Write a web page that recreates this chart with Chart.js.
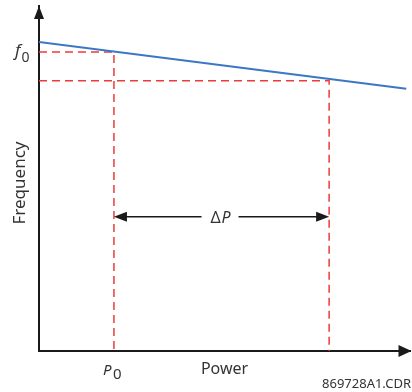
<!DOCTYPE html>
<html>
<head>
<meta charset="utf-8">
<script src="https://cdn.jsdelivr.net/npm/chart.js@4"></script>
<style>
  body { margin: 0; background: #fff; }
  #wrap { width: 412px; height: 392px; }
</style>
</head>
<body>
<div id="wrap"><canvas id="droop" width="412" height="392"></canvas></div>
<script>
// droop characteristic, axes in % of full scale
var powerPts = [0, 99];
var freqPts = [89.6, 76.0];

// operating points
var p0 = 20.2, p1 = 78.2;
var f0 = 86.7, f1 = 78.3;
var deltaPLevel = 38.9;

var axisMax = 100;
var axisColor = '#1a1a1a';
var textColor = '#333333';
var redDash = '#ec3b3b';
var fontFamily = '"Noto Sans", "Open Sans", sans-serif';

// arrows, axis name, sub-scripted labels and the drawing id
var annotations = {
    id: 'annotations',
    afterDatasetsDraw: function(chart) {
        var ctx = chart.ctx,
            xs = chart.scales.x,
            ys = chart.scales.y,
            area = chart.chartArea;

        function triangle(tx, ty, dir, len, half) {
            ctx.beginPath();
            if (dir === 'up') {
                ctx.moveTo(tx, ty); ctx.lineTo(tx - half, ty + len); ctx.lineTo(tx + half, ty + len);
            } else if (dir === 'right') {
                ctx.moveTo(tx, ty); ctx.lineTo(tx - len, ty - half); ctx.lineTo(tx - len, ty + half);
            } else {
                ctx.moveTo(tx, ty); ctx.lineTo(tx + len, ty - half); ctx.lineTo(tx + len, ty + half);
            }
            ctx.closePath();
            ctx.fill();
        }

        ctx.save();
        ctx.fillStyle = axisColor;
        // axis arrowheads
        triangle(area.left, area.top, 'up', 13, 5);
        triangle(area.right + 1.5, area.bottom, 'right', 13, 6);

        // delta P dimension arrow
        var xa = xs.getPixelForValue(p0),
            xb = xs.getPixelForValue(p1),
            yd = ys.getPixelForValue(deltaPLevel),
            xm = (xa + xb) / 2;
        ctx.strokeStyle = axisColor;
        ctx.lineWidth = 1.5;
        ctx.beginPath();
        ctx.moveTo(xa + 10, yd); ctx.lineTo(xm - 20, yd);
        ctx.moveTo(xm + 17, yd); ctx.lineTo(xb - 10, yd);
        ctx.stroke();
        triangle(xa, yd, 'left', 13, 5);
        triangle(xb, yd, 'right', 13, 5);

        ctx.fillStyle = textColor;
        ctx.textBaseline = 'alphabetic';
        ctx.textAlign = 'left';
        ctx.font = '16px ' + fontFamily;
        ctx.fillText('\u0394', xm - 11, yd + 6);
        ctx.font = 'italic 16px ' + fontFamily;
        ctx.fillText('P', xm, yd + 6);

        // frequency axis name, rotated
        ctx.save();
        ctx.translate(20.5, 183);
        ctx.rotate(-Math.PI / 2);
        ctx.textAlign = 'center';
        ctx.textBaseline = 'middle';
        ctx.font = '17px ' + fontFamily;
        ctx.fillText('Frequency', 0, 0);
        ctx.restore();

        // f0 label on the frequency axis
        var yf = ys.getPixelForValue(f0);
        ctx.font = 'italic 17px ' + fontFamily;
        ctx.fillText('f', 15, yf + 4.5);
        ctx.font = '14px ' + fontFamily;
        ctx.fillText('0', 21.5, yf + 10);

        // P0 label on the power axis
        var xp = xs.getPixelForValue(p0);
        ctx.font = 'italic 15px ' + fontFamily;
        ctx.fillText('P', xp - 11, area.bottom + 24);
        ctx.font = '15px ' + fontFamily;
        ctx.fillText('0', xp - 1, area.bottom + 28);

        // drawing number
        ctx.font = '13px ' + fontFamily;
        ctx.textAlign = 'right';
        ctx.fillText('869728A1.CDR', 411, 388);
        ctx.restore();
    }
};

var ctx = document.getElementById('droop').getContext('2d');
var droopChart = new Chart(ctx, {
    type: 'line',
    data: {
        datasets: [
            {
                label: 'droop',
                data: powerPts.map(function(p, i) { return {x: p, y: freqPts[i]}; }),
                borderColor: '#3b78c4',
                borderWidth: 2,
                pointRadius: 0
            },
            {
                label: 'f0 / P0',
                data: [{x: 0, y: f0}, {x: p0, y: f0}, {x: p0, y: 0}],
                borderColor: redDash,
                borderWidth: 1.5,
                borderDash: [8, 5],
                pointRadius: 0
            },
            {
                label: 'f1 / P1',
                data: [{x: 0, y: f1}, {x: p1, y: f1}, {x: p1, y: 0}],
                borderColor: redDash,
                borderWidth: 1.5,
                borderDash: [8, 5],
                pointRadius: 0
            }
        ]
    },
    options: {
        responsive: false,
        devicePixelRatio: 1,
        animation: false,
        events: [],
        layout: { padding: { left: 39, right: 2, top: 6, bottom: 9.4 } },
        plugins: { legend: { display: false }, tooltip: { enabled: false } },
        scales: {
            x: {
                type: 'linear', min: 0, max: axisMax,
                ticks: { display: false },
                grid: { display: false, drawTicks: false },
                border: { display: true, color: axisColor, width: 2 },
                title: {
                    display: true, text: 'Power', color: textColor,
                    font: { family: fontFamily, size: 16, lineHeight: 1.2 },
                    padding: { top: 8.4, bottom: 4 }
                }
            },
            y: {
                type: 'linear', min: 0, max: axisMax,
                ticks: { display: false },
                grid: { display: false, drawTicks: false },
                border: { display: true, color: axisColor, width: 2 }
            }
        }
    },
    plugins: [annotations]
});
</script>
</body>
</html>
